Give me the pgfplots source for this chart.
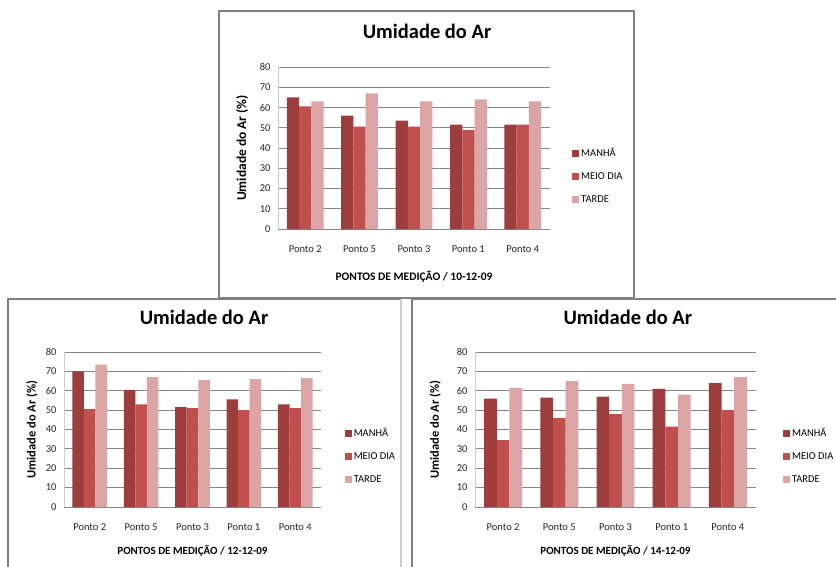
\documentclass[border=0pt]{standalone}
\usepackage{fontspec}
\setmainfont{Carlito}
\usepackage{pgfplots}
\usepackage{pgfplotstable}
\pgfplotsset{compat=1.18}

\definecolor{manha}{RGB}{157,61,61}
\definecolor{meiodia}{RGB}{192,80,77}
\definecolor{tarde}{RGB}{218,165,164}
\definecolor{gridgray}{RGB}{134,134,134}
\definecolor{boxgray}{RGB}{128,128,128}
\definecolor{axisgray}{RGB}{205,205,205}

% Umidade relativa do ar (%) por ponto de medicao
\pgfplotstableread{
idx manha meiodia tarde
0   65    60.5    63
1   56    50.5    67
2   53.5  50.5    63
3   51.5  49      64
4   51.5  51.5    63
}\diaDez

\pgfplotstableread{
idx manha meiodia tarde
0   70    50.5    73.5
1   60.5  53      67
2   51.5  51      65.5
3   55.5  50      66
4   53    51      66.5
}\diaDoze

\pgfplotstableread{
idx manha meiodia tarde
0   56    34.5    61.5
1   56.5  46      65
2   57    48      63.5
3   61    41.5    58
4   64    50      67
}\diaQuatorze

\pgfplotsset{
  umidade/.style={
    scale only axis,
    ybar=0pt, bar width=0.225,
    xmin=-0.5, xmax=4.5, ymin=0, ymax=80,
    xtick={0,...,4},
    xticklabels={Ponto 2,Ponto 5,Ponto 3,Ponto 1,Ponto 4},
    ytick={0,10,...,80},
    axis x line*=bottom, axis y line*=left,
    x axis line style={draw=gridgray, line width=0.8pt, -},
    y axis line style={draw=axisgray, line width=0.8pt, -},
    ymajorgrids,
    grid style={draw=gridgray, line width=0.8pt},
    major tick length=0pt,
    /pgf/number format/assume math mode=true,
    tick label style={font=\fontsize{10.5}{12}\selectfont, text=black!85},
    xticklabel style={yshift=-13pt},
    yticklabel style={xshift=-4pt},
    title style={font=\bfseries\fontsize{20.5}{24}\selectfont, anchor=center},
    every axis y label/.style={rotate=90, anchor=center,
      font=\bfseries\fontsize{12.5}{14}\selectfont},
    every axis x label/.style={anchor=center,
      font=\bfseries\fontsize{11}{13}\selectfont},
    legend cell align=left,
    legend style={draw=none, fill=none, anchor=west,
      font=\fontsize{10.5}{12}\selectfont, row sep=10.5pt,
      /tikz/every even column/.append style={column sep=2pt}},
    legend image code/.code={\fill[#1, draw=none] (0pt,-3.5pt) rectangle (7pt,3.5pt);},
    ylabel={Umidade do Ar (\%)},
    title={Umidade do Ar},
  },
  manhabar/.style={fill=manha, draw=none, bar shift=-0.225},
  meiobar/.style={fill=meiodia, draw=none, bar shift=0},
  tardebar/.style={fill=tarde, draw=none, bar shift=0.225},
}

\begin{document}
\begin{tikzpicture}
\path[use as bounding box] (0pt,0pt) rectangle (836pt,566pt);
\clip (0pt,0pt) rectangle (836pt,566pt);
\fill[white] (0pt,0pt) rectangle (836pt,566pt);

% molduras dos tres graficos
\draw[boxgray, line width=1.1pt] (219pt,555pt) rectangle (634pt,268pt);
\draw[boxgray, line width=1.1pt] (8pt,-10pt) -- (8pt,267pt) -- (401pt,267pt);
\draw[axisgray, line width=1.1pt] (401pt,267pt) -- (401pt,-10pt);
\draw[boxgray, line width=1.1pt] (412pt,-10pt) -- (412pt,267pt) -- (850pt,267pt);

% 10-12-09
\begin{axis}[umidade,
  at={(278pt,337pt)}, anchor=south west,
  width=272pt, height=162pt,
  xlabel={PONTOS DE MEDIÇÃO / 10-12-09},
  title style={at={(axis description cs:0.548,1.185)}},
  every axis y label/.append style={at={(axis description cs:-0.132,0.5)},
    font=\bfseries\fontsize{13.5}{15}\selectfont},
  every axis x label/.append style={at={(axis description cs:0.5,-0.296)},
    font=\bfseries\fontsize{11.5}{13}\selectfont},
  legend style={at={(axis description cs:1.07,0.327)}},
]
\addplot[manhabar] table[x=idx, y=manha] {\diaDez};
\addplot[meiobar] table[x=idx, y=meiodia] {\diaDez};
\addplot[tardebar] table[x=idx, y=tarde] {\diaDez};
\legend{MANHÃ, MEIO DIA, TARDE}
\end{axis}

% 12-12-09
\begin{axis}[umidade,
  at={(64pt,59pt)}, anchor=south west,
  width=257pt, height=155pt,
  xlabel={PONTOS DE MEDIÇÃO / 12-12-09},
  title style={at={(axis description cs:0.545,1.187)}},
  every axis y label/.append style={at={(axis description cs:-0.125,0.5)}},
  every axis x label/.append style={at={(axis description cs:0.5,-0.284)}},
  legend style={at={(axis description cs:1.08,0.33)}},
]
\addplot[manhabar] table[x=idx, y=manha] {\diaDoze};
\addplot[meiobar] table[x=idx, y=meiodia] {\diaDoze};
\addplot[tardebar] table[x=idx, y=tarde] {\diaDoze};
\legend{MANHÃ, MEIO DIA, TARDE}
\end{axis}

% 14-12-09
\begin{axis}[umidade,
  at={(475pt,59pt)}, anchor=south west,
  width=281pt, height=155pt,
  xlabel={PONTOS DE MEDIÇÃO / 14-12-09},
  title style={at={(axis description cs:0.544,1.187)}},
  every axis y label/.append style={at={(axis description cs:-0.142,0.5)}},
  every axis x label/.append style={at={(axis description cs:0.5,-0.284)}},
  legend style={at={(axis description cs:1.085,0.33)}},
]
\addplot[manhabar] table[x=idx, y=manha] {\diaQuatorze};
\addplot[meiobar] table[x=idx, y=meiodia] {\diaQuatorze};
\addplot[tardebar] table[x=idx, y=tarde] {\diaQuatorze};
\legend{MANHÃ, MEIO DIA, TARDE}
\end{axis}
\end{tikzpicture}
\end{document}
